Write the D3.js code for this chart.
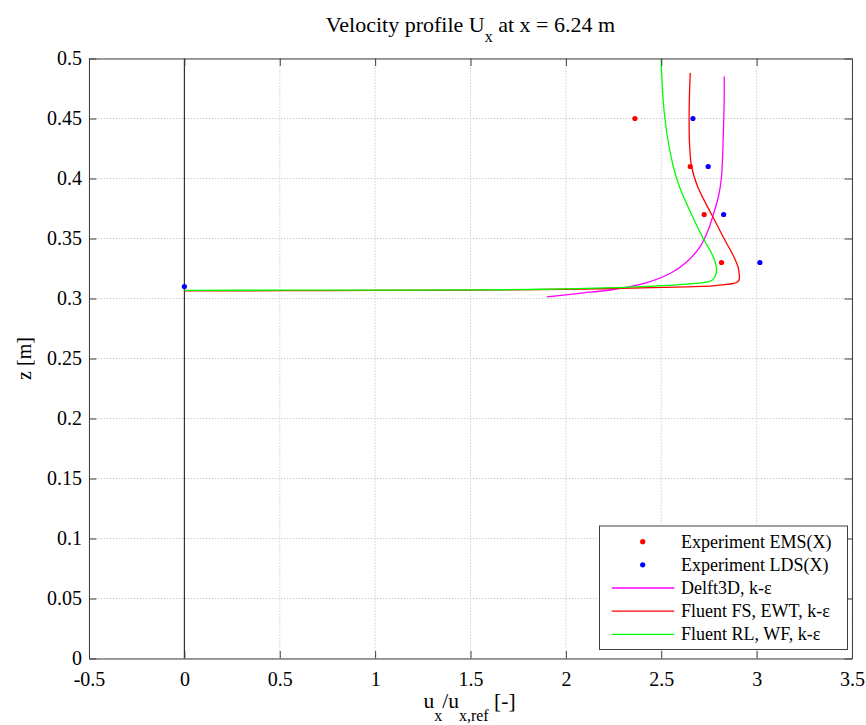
<!DOCTYPE html>
<html>
<head>
<meta charset="utf-8">
<script src="https://cdn.jsdelivr.net/npm/d3@7"></script>
<style>
  html, body { margin: 0; padding: 0; background: #fff; }
  svg { display: block; }
  text { font-family: "Liberation Serif", "Times New Roman", serif; fill: #000; }
</style>
</head>
<body>
<div id="chart"></div>
<script>
// Axis ticks
const xTicks = [-0.5, 0, 0.5, 1, 1.5, 2, 2.5, 3, 3.5];
const xTickLabels = ["-0.5", "0", "0.5", "1", "1.5", "2", "2.5", "3", "3.5"];
const zTicks = [0, 0.05, 0.1, 0.15, 0.2, 0.25, 0.3, 0.35, 0.4, 0.45, 0.5];
const zTickLabels = ["0", "0.05", "0.1", "0.15", "0.2", "0.25", "0.3", "0.35", "0.4", "0.45", "0.5"];

// Measurements
const emsU = [2.362, 2.652, 2.725, 2.816];
const emsZ = [0.45, 0.41, 0.37, 0.33];
const ldsU = [0.0, 2.666, 2.746, 2.827, 3.017];
const ldsZ = [0.31, 0.45, 0.41, 0.37, 0.33];

// Delft3D, k-eps
const delftU = [1.90, 2.07, 2.248, 2.424, 2.546, 2.633, 2.703, 2.746, 2.773, 2.800, 2.815, 2.822, 2.826, 2.830, 2.830];
const delftZ = [0.3013, 0.3043, 0.3075, 0.3133, 0.3208, 0.3305, 0.343, 0.357, 0.37, 0.385, 0.40, 0.42, 0.44, 0.465, 0.485];

// Fluent FS, EWT, k-eps
const fsU = [0, 0.5, 1.0, 1.5, 2.0, 2.51, 2.77, 2.83, 2.877, 2.900, 2.909, 2.909, 2.903, 2.877, 2.829, 2.764, 2.694, 2.659, 2.648, 2.646, 2.648, 2.652];
const fsZ = [0.3064, 0.3065, 0.3067, 0.3070, 0.3077, 0.3092, 0.3105, 0.3115, 0.3125, 0.3138, 0.3160, 0.320, 0.326, 0.336, 0.35, 0.37, 0.392, 0.41, 0.43, 0.45, 0.47, 0.488];

// Fluent RL, WF, k-eps
const rlU = [0, 0.5, 1.0, 1.5, 1.813, 2.2, 2.51, 2.65, 2.72, 2.755, 2.775, 2.786, 2.790, 2.769, 2.720, 2.659, 2.598, 2.563, 2.519, 2.502, 2.500];
const rlZ = [0.3068, 0.3069, 0.3070, 0.3072, 0.3075, 0.3088, 0.3108, 0.3122, 0.3132, 0.3142, 0.3165, 0.320, 0.325, 0.336, 0.35, 0.37, 0.392, 0.41, 0.45, 0.4875, 0.50];

const legendNames = ["Experiment EMS(X)", "Experiment LDS(X)", "Delft3D, k-\u03b5", "Fluent FS, EWT, k-\u03b5", "Fluent RL, WF, k-\u03b5"];
const seriesColors = ["#ff0000", "#0000ff", "#ff00ff", "#ff0000", "#00ff00"];

const W = 866, H = 725;
const m = { left: 89, right: 14, top: 58.5, bottom: 66.5 };
const pw = W - m.left - m.right, ph = H - m.top - m.bottom;

const svg = d3.select("#chart").append("svg").attr("width", W).attr("height", H);
svg.append("rect").attr("width", W).attr("height", H).attr("fill", "#fff");

const x = d3.scaleLinear().domain([-0.5, 3.5]).range([0, pw]);
const y = d3.scaleLinear().domain([0, 0.5]).range([ph, 0]);

const g = svg.append("g").attr("transform", `translate(${m.left},${m.top})`);

g.append("defs").append("clipPath").attr("id", "plotclip")
  .append("rect").attr("width", pw).attr("height", ph);

// Dotted grid
const grid = g.append("g");
grid.selectAll(".gx").data(xTicks).join("line")
  .attr("x1", d => x(d)).attr("x2", d => x(d)).attr("y1", 0).attr("y2", ph)
  .attr("stroke", "#b8b8b8").attr("stroke-width", 0.8).attr("stroke-dasharray", "1.2,1.8");
grid.selectAll(".gy").data(zTicks).join("line")
  .attr("x1", 0).attr("x2", pw).attr("y1", d => y(d)).attr("y2", d => y(d))
  .attr("stroke", "#b8b8b8").attr("stroke-width", 0.8).attr("stroke-dasharray", "1.2,1.8");

const plot = g.append("g").attr("clip-path", "url(#plotclip)");

// Reference line at u = 0
plot.append("line")
  .attr("x1", x(0)).attr("x2", x(0)).attr("y1", y(0)).attr("y2", y(0.5))
  .attr("stroke", "#222").attr("stroke-width", 1.1);

const line = d3.line().x(d => x(d[0])).y(d => y(d[1])).curve(d3.curveCatmullRom.alpha(0.5));
const profiles = [
  { u: delftU, z: delftZ, c: seriesColors[2] },
  { u: fsU, z: fsZ, c: seriesColors[3] },
  { u: rlU, z: rlZ, c: seriesColors[4] }
];
profiles.forEach(p => {
  plot.append("path").datum(p.u.map((u, i) => [u, p.z[i]]))
    .attr("fill", "none").attr("stroke", p.c).attr("stroke-width", 1.3)
    .attr("d", line);
});

plot.selectAll(".ems").data(emsU.map((u, i) => [u, emsZ[i]])).join("circle")
  .attr("cx", d => x(d[0])).attr("cy", d => y(d[1])).attr("r", 2.6).attr("fill", seriesColors[0]);
plot.selectAll(".lds").data(ldsU.map((u, i) => [u, ldsZ[i]])).join("circle")
  .attr("cx", d => x(d[0])).attr("cy", d => y(d[1])).attr("r", 2.6).attr("fill", seriesColors[1]);

// Axes: box with inward ticks on all sides
const axisColor = "#404040";
const tl = 7.5;
const xb = g.append("g").attr("transform", `translate(0,${ph})`)
  .call(d3.axisBottom(x).tickValues(xTicks).tickFormat((d, i) => xTickLabels[i]).tickSizeInner(-tl).tickSizeOuter(0).tickPadding(13));
const xt = g.append("g")
  .call(d3.axisTop(x).tickValues(xTicks).tickFormat("").tickSizeInner(-tl).tickSizeOuter(0));
const yl = g.append("g")
  .call(d3.axisLeft(y).tickValues(zTicks).tickFormat((d, i) => zTickLabels[i]).tickSizeInner(-tl).tickSizeOuter(0).tickPadding(7));
const yr = g.append("g").attr("transform", `translate(${pw},0)`)
  .call(d3.axisRight(y).tickValues(zTicks).tickFormat("").tickSizeInner(-tl).tickSizeOuter(0));
[xb, xt, yl, yr].forEach(a => {
  a.select(".domain").attr("stroke", axisColor).attr("stroke-width", 1);
  a.selectAll(".tick line").attr("stroke", axisColor).attr("stroke-width", 1);
  a.selectAll("text").attr("font-family", "Liberation Serif").attr("font-size", 20).attr("fill", "#000");
});

// Legend
const lg = g.append("g").attr("transform", `translate(${599.5 - m.left},${526 - m.top})`);
lg.append("rect").attr("width", 248).attr("height", 123.5)
  .attr("fill", "#fff").attr("stroke", axisColor).attr("stroke-width", 1);
legendNames.forEach((name, i) => {
  const ry = 15.7 + i * 23.15;
  if (i < 2) {
    lg.append("circle").attr("cx", 43.2).attr("cy", ry).attr("r", 2.6).attr("fill", seriesColors[i]);
  } else {
    lg.append("line").attr("x1", 12.2).attr("x2", 74.8).attr("y1", ry).attr("y2", ry)
      .attr("stroke", seriesColors[i]).attr("stroke-width", 1.3);
  }
  lg.append("text").attr("x", 81.5).attr("y", ry).attr("dy", "0.33em")
    .attr("font-size", 18).text(name);
});

// Title
const title = svg.append("text").attr("x", m.left + pw / 2).attr("y", 31.7)
  .attr("text-anchor", "middle").attr("font-size", 22);
title.append("tspan").text("Velocity profile U");
title.append("tspan").attr("font-size", 16).attr("dy", 10).text("x");
title.append("tspan").attr("dy", -10).text(" at x = 6.24 m");

// Axis labels
const xl = svg.append("text").attr("x", m.left + pw / 2 - 1).attr("y", 708)
  .attr("text-anchor", "middle").attr("font-size", 21.5);
xl.append("tspan").text("u");
xl.append("tspan").attr("font-size", 16).attr("dy", 13).text("x");
xl.append("tspan").attr("dy", -13).text("/u");
xl.append("tspan").attr("font-size", 16).attr("dy", 13).text("x,ref");
xl.append("tspan").attr("dy", -13).text(" [-]");

svg.append("text").attr("transform", `translate(31,${m.top + ph / 2}) rotate(-90)`)
  .attr("text-anchor", "middle").attr("font-size", 20).text("z [m]");
</script>
</body>
</html>
